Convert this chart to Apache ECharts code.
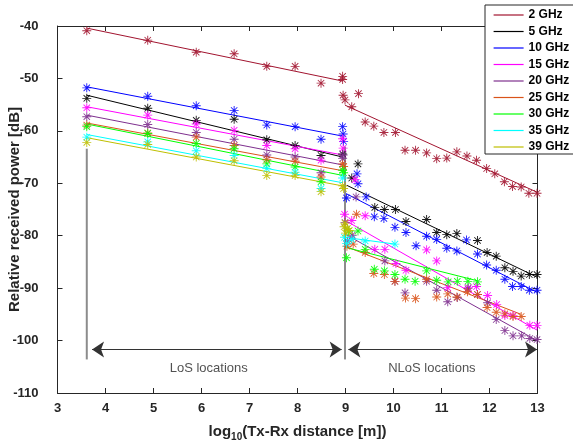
<!DOCTYPE html>
<html>
<head>
<meta charset="utf-8">
<script src="https://cdn.jsdelivr.net/npm/echarts@6/dist/echarts.min.js"></script>
<style>
  html, body { margin: 0; padding: 0; background: #fff; }
  #main { width: 573px; height: 441px; }
</style>
</head>
<body>
<div id="main"></div>
<script>
var freqs = ["2 GHz", "5 GHz", "10 GHz", "15 GHz", "20 GHz", "25 GHz", "30 GHz", "35 GHz", "39 GHz"];

// LoS measurement positions (shared by all frequencies)
var losX = [3.61, 4.88, 5.89, 6.68, 7.36, 7.95, 8.49, 8.94];
var los2 = [-40.9, -42.7, -45.0, -45.3, -47.7, -47.7, -50.9, -49.6];
var los5 = [-53.8, -55.7, -58.0, -57.8, -61.7, -62.8, -64.7, -64.4];
var los10 = [-51.8, -53.4, -55.2, -56.1, -58.9, -59.2, -61.6, -59.2];
var los15 = [-55.6, -57.0, -58.7, -59.9, -62.8, -63.4, -65.6, -61.5];
var los20 = [-57.3, -58.8, -60.3, -61.6, -64.6, -65.0, -68.0, -65.3];
var los25 = [-58.9, -60.4, -61.2, -62.8, -65.5, -65.8, -68.8, -66.3];
var los30 = [-59.2, -60.5, -62.4, -63.4, -66.3, -66.9, -69.7, -67.5];
var los35 = [-61.2, -62.1, -63.8, -64.7, -67.2, -67.9, -71.0, -69.0];
var los39 = [-62.2, -62.6, -65.0, -65.7, -68.5, -68.5, -71.6, -70.5];

// NLoS measurements [x, dB]
var nlos2 = [[8.94, -50.2], [8.95, -53.2], [8.99, -54.1], [9.13, -55.4], [9.27, -52.9], [9.41, -58.3], [9.59, -59.1], [9.80, -60.3], [10.04, -60.3], [10.24, -63.7], [10.46, -63.7], [10.69, -64.2], [10.90, -65.3], [11.11, -65.2], [11.32, -64.0], [11.53, -64.8], [11.73, -65.6], [11.94, -67.2], [12.11, -68.2], [12.31, -69.7], [12.48, -70.6], [12.66, -70.7], [12.82, -71.9], [12.99, -71.9]];
var nlos5 = [[9.13, -69.0], [9.26, -66.3], [9.61, -74.6], [9.81, -75.0], [10.04, -75.0], [10.26, -77.3], [10.69, -76.9], [10.90, -79.4], [11.11, -79.8], [11.32, -79.6], [11.75, -80.9], [11.95, -83.2], [12.14, -83.9], [12.32, -86.1], [12.49, -86.8], [12.66, -87.7], [12.83, -87.4], [12.99, -87.4]];
var nlos10 = [[8.95, -60.6], [8.96, -62.0], [9.02, -72.8], [9.24, -68.2], [9.26, -70.1], [9.43, -72.6], [9.60, -76.4], [9.80, -76.7], [10.03, -78.4], [10.26, -79.4], [10.47, -81.9], [10.69, -80.1], [10.90, -80.7], [11.11, -82.4], [11.32, -82.9], [11.52, -80.8], [11.75, -83.5], [11.94, -85.6], [12.14, -86.6], [12.32, -88.3], [12.48, -89.7], [12.66, -89.7], [12.83, -90.4], [12.99, -90.4]];
var nlos15 = [[8.95, -63.3], [8.98, -75.9], [9.13, -77.1], [9.20, -69.3], [9.41, -76.2], [9.61, -82.6], [9.82, -82.6], [10.05, -85.3], [10.26, -86.6], [10.69, -82.7], [10.90, -84.8], [11.13, -89.9], [11.56, -89.9], [11.73, -89.7], [11.96, -91.4], [12.15, -93.1], [12.32, -95.2], [12.49, -95.2], [12.84, -97.1], [12.99, -97.1]];
var nlos20 = [[8.95, -64.6], [8.99, -77.5], [9.04, -81.0], [9.14, -79.9], [9.22, -72.6], [9.82, -84.8], [10.03, -88.7], [10.24, -90.9], [10.69, -88.7], [10.90, -90.4], [11.13, -92.6], [11.33, -91.8], [11.55, -90.1], [11.75, -91.2], [11.96, -92.8], [12.14, -96.0], [12.32, -98.1], [12.49, -99.1], [12.67, -99.1], [12.84, -99.6], [12.99, -99.8]];
var nlos25 = [[8.96, -66.8], [9.03, -82.0], [9.16, -81.6], [9.23, -75.9], [9.41, -83.2], [9.59, -87.2], [9.81, -87.4], [10.03, -88.7], [10.25, -91.9], [10.46, -92.0], [10.69, -88.3], [10.90, -91.7], [11.13, -91.1], [11.32, -91.7], [11.54, -90.7], [11.75, -91.2], [11.95, -93.7], [12.14, -94.6], [12.32, -94.9], [12.49, -95.4], [12.66, -95.4]];
var nlos30 = [[8.96, -68.0], [9.02, -84.2], [9.06, -79.1], [9.26, -79.1], [9.41, -82.6], [9.60, -86.4], [9.81, -86.7], [10.03, -87.4], [10.24, -88.3], [10.45, -88.7], [10.69, -86.7], [10.90, -88.5], [11.14, -88.8], [11.33, -88.7], [11.55, -88.7], [11.75, -88.8]];
var nlos35 = [[8.98, -80.3], [9.02, -81.5], [9.13, -80.7], [9.41, -81.0], [10.03, -81.6]];
var nlos39 = [[8.96, -71.0], [8.97, -78.3], [8.99, -77.6], [9.00, -79.5], [9.04, -78.6], [9.08, -79.0]];

// fitted lines: LoS ends at fitLosX, NLoS as [x, dB] end points
var fitLosX = [3.61, 8.94];
var fitLos2 = [-40.4, -50.5];
var fitLos5 = [-53.2, -65.0];
var fitLos10 = [-51.6, -61.0];
var fitLos15 = [-55.4, -64.6];
var fitLos20 = [-57.0, -66.5];
var fitLos25 = [-58.5, -67.6];
var fitLos30 = [-58.7, -68.5];
var fitLos35 = [-60.7, -69.9];
var fitLos39 = [-61.3, -70.5];
var fitNlos2 = [[8.99, -55.1], [12.99, -71.7]];
var fitNlos5 = [[9.03, -70.4], [12.99, -87.9]];
var fitNlos10 = [[9.02, -72.0], [12.99, -90.8]];
var fitNlos15 = [[8.98, -77.0], [12.99, -98.0]];
var fitNlos20 = [[8.99, -79.7], [12.99, -100.0]];
var fitNlos25 = [[8.99, -82.0], [12.66, -95.0]];
var fitNlos30 = [[8.99, -82.2], [11.75, -88.6]];
var fitNlos35 = [[8.98, -80.3], [10.03, -81.6]];
var fitNlos39 = [[8.97, -78.5], [9.10, -79.0]];

// region markers
var losGuide = [[3.61, -63.4], [3.61, -103.6]];
var nlosGuide = [[8.99, -63.0], [8.99, -103.6]];
var arrowY = -101.7;
var losSpan = [3.72, 8.92];
var nlosSpan = [9.06, 12.99];
var regionLabels = [[6.15, -105.4, "LoS locations"], [10.8, -105.4, "NLoS locations"]];

var colors = ["#A2142F", "#000000", "#0000FF", "#FF00FF", "#7E2F8E", "#D95319", "#00FF00", "#00FFFF", "#BFBF00"];
var losAll = [los2, los5, los10, los15, los20, los25, los30, los35, los39];
var nlosAll = [nlos2, nlos5, nlos10, nlos15, nlos20, nlos25, nlos30, nlos35, nlos39];
var fitLosAll = [fitLos2, fitLos5, fitLos10, fitLos15, fitLos20, fitLos25, fitLos30, fitLos35, fitLos39];
var fitNlosAll = [fitNlos2, fitNlos5, fitNlos10, fitNlos15, fitNlos20, fitNlos25, fitNlos30, fitNlos35, fitNlos39];

// matlab style '*' marker
var star = "path://M9,0L11,0L11,20L9,20Z M0,9L20,9L20,11L0,11Z " +
  "M2.2,3.6L3.6,2.2L17.8,16.4L16.4,17.8Z M16.4,2.2L17.8,3.6L3.6,17.8L2.2,16.4Z";

var font = "Liberation Sans, Arial, sans-serif";
var axisColor = "#262626";

var series = [];
freqs.forEach(function (name, i) {
  series.push({
    name: name,
    type: "line",
    data: fitLosX.map(function (x, k) { return [x, fitLosAll[i][k]]; }),
    symbol: "none",
    lineStyle: { color: colors[i], width: 1 },
    itemStyle: { color: colors[i] },
    z: 2,
  });
  series.push({
    name: name,
    type: "line",
    data: fitNlosAll[i],
    symbol: "none",
    lineStyle: { color: colors[i], width: 1 },
    itemStyle: { color: colors[i] },
    z: 2,
  });
});
freqs.forEach(function (name, i) {
  series.push({
    name: name + " data",
    type: "scatter",
    data: losX.map(function (x, k) { return [x, losAll[i][k]]; }).concat(nlosAll[i]),
    symbol: star,
    symbolSize: 9,
    itemStyle: { color: colors[i], opacity: 0.9 },
    z: 3,
  });
});

// guide lines + arrows
[losGuide, nlosGuide].forEach(function (g) {
  series.push({
    type: "line",
    data: g,
    symbol: "none",
    lineStyle: { color: "#8c8c8c", width: 2 },
    z: 1,
  });
});
series.push({
  type: "scatter",
  data: regionLabels,
  symbolSize: 0,
  label: {
    show: true,
    position: "inside",
    formatter: function (p) { return p.value[2]; },
    color: axisColor,
    fontSize: 13,
    fontFamily: font,
  },
  markLine: {
    silent: true,
    symbol: ["arrow", "arrow"],
    symbolSize: 12,
    label: { show: false },
    lineStyle: { color: "#333", width: 1, type: "solid" },
    data: [
      [{ coord: [losSpan[0], arrowY] }, { coord: [losSpan[1], arrowY] }],
      [{ coord: [nlosSpan[0], arrowY] }, { coord: [nlosSpan[1], arrowY] }],
    ],
  },
  z: 4,
});

function xAxisCfg(pos, showLabel) {
  return {
    type: "value",
    position: pos,
    min: 3,
    max: 13,
    interval: 1,
    axisLine: { onZero: false, lineStyle: { color: axisColor, width: 1 } },
    axisTick: { inside: true, length: 5, lineStyle: { color: axisColor } },
    axisLabel: { show: showLabel, color: axisColor, fontWeight: "bold", fontSize: 13, fontFamily: font, margin: 9 },
    splitLine: { show: false },
  };
}
function yAxisCfg(pos, showLabel) {
  return {
    type: "value",
    position: pos,
    min: -110,
    max: -40,
    interval: 10,
    axisLine: { onZero: false, lineStyle: { color: axisColor, width: 1 } },
    axisTick: { inside: true, length: 5, lineStyle: { color: axisColor } },
    axisLabel: { show: showLabel, color: axisColor, fontWeight: "bold", fontSize: 13, fontFamily: font, margin: 19 },
    splitLine: { show: false },
  };
}

var xBottom = xAxisCfg("bottom", true);
xBottom.name = "{b|log}{s|10}{b|(Tx-Rx distance [m])}";
xBottom.nameLocation = "middle";
xBottom.nameGap = 29;
xBottom.nameTextStyle = {
  color: axisColor,
  rich: {
    b: { fontSize: 15, fontWeight: "bold", fontFamily: font, color: axisColor },
    s: { fontSize: 10, fontWeight: "bold", fontFamily: font, color: axisColor, padding: [10, 0, 0, 0] },
  },
};
var yLeft = yAxisCfg("left", true);
yLeft.name = "Relative received power [dB]";
yLeft.nameLocation = "middle";
yLeft.nameGap = 35;
yLeft.nameMoveOverlap = false;
yLeft.nameTextStyle = { fontSize: 15, fontWeight: "bold", fontFamily: font, color: axisColor };

var myChart = echarts.init(document.getElementById("main"));
var option = {
  animation: false,
  backgroundColor: "#fff",
  grid: { left: 57.5, right: 35.5, top: 26, bottom: 48, outerBoundsMode: "none", containLabel: false },
  xAxis: [xBottom, xAxisCfg("top", false)],
  yAxis: [yLeft, yAxisCfg("right", false)],
  legend: {
    data: freqs,
    orient: "vertical",
    left: 485,
    top: 5,
    itemWidth: 30,
    itemHeight: 12,
    itemGap: 4.5,
    padding: [4, 40, 1, 8],
    backgroundColor: "#fff",
    borderColor: axisColor,
    borderWidth: 1,
    selectedMode: false,
    itemStyle: { opacity: 0 },
    lineStyle: { width: 1.2 },
    textStyle: { color: "#000", fontWeight: "bold", fontSize: 12, fontFamily: font },
  },
  series: series,
};
myChart.setOption(option);
</script>
</body>
</html>
